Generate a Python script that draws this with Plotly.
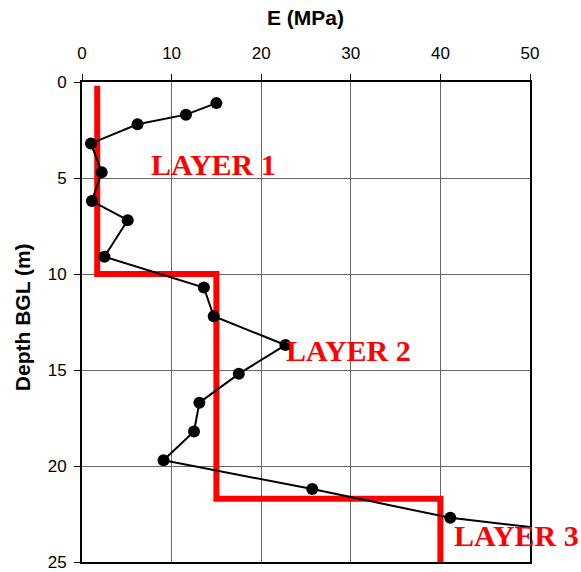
import plotly.graph_objects as go

# Measured stiffness profile (modulus vs depth below ground level)
modulus_mpa = [15.0, 11.6, 6.2, 1.0, 2.2, 1.1, 5.1, 2.5, 13.6, 14.7, 22.7, 17.5, 13.1, 12.5, 9.1, 25.7, 41.1, 69.0]
depth_m = [1.1, 1.7, 2.2, 3.2, 4.7, 6.2, 7.2, 9.1, 10.7, 12.2, 13.7, 15.2, 16.7, 18.2, 19.7, 21.2, 22.7, 24.2]

# Idealised layered design profile
layer_modulus = [1.7, 1.7, 15.0, 15.0, 40.0, 40.0]
layer_depth = [0.2, 10.0, 10.0, 21.7, 21.7, 25.0]

# Layer labels and their positions (E, depth)
layer_names = ["LAYER 1", "LAYER 2", "LAYER 3"]
label_e = [14.7, 29.7, 48.5]
label_depth = [4.3, 13.96, 23.6]

fig = go.Figure()

fig.add_trace(go.Scatter(
    x=layer_modulus, y=layer_depth, mode="lines",
    line=dict(color="#ff0000", width=6),
    showlegend=False, hoverinfo="skip",
))

fig.add_trace(go.Scatter(
    x=modulus_mpa, y=depth_m, mode="lines+markers",
    line=dict(color="black", width=2),
    marker=dict(color="black", size=12),
    showlegend=False,
))

for name, xe, yd in zip(layer_names, label_e, label_depth):
    fig.add_annotation(
        x=xe, y=yd, xref="x", yref="y", text=f"<b>{name}</b>",
        showarrow=False,
        font=dict(family="Liberation Serif, Times New Roman, serif", size=30, color="#ff0000"),
        xanchor="center", yanchor="middle",
    )

sans = "Liberation Sans, Arial, sans-serif"
axis_font = dict(family=sans, size=17, color="black")
title_font = dict(family=sans, size=21, color="black")

# Axis titles placed as paper-referenced annotations
fig.add_annotation(
    x=0.498, y=1.135, xref="paper", yref="paper", text="<b>E (MPa)</b>",
    showarrow=False, font=title_font, xanchor="center", yanchor="middle",
)
fig.add_annotation(
    x=-0.134, y=0.51, xref="paper", yref="paper", text="<b>Depth BGL (m)</b>",
    showarrow=False, font=title_font, textangle=-90,
    xanchor="center", yanchor="middle",
)

fig.update_xaxes(
    side="top", range=[0, 50], dtick=10, tick0=0,
    ticks="outside", ticklen=6, tickwidth=1, tickcolor="black",
    ticklabelstandoff=8,
    showline=True, linecolor="black", linewidth=2, mirror=True,
    showgrid=True, gridcolor="#666666", gridwidth=1,
    zeroline=False, tickfont=axis_font, automargin=False,
)
fig.update_yaxes(
    range=[25, 0], dtick=5, tick0=0,
    ticks="outside", ticklen=6, tickwidth=1, tickcolor="black",
    ticklabelstandoff=4,
    showline=True, linecolor="black", linewidth=2, mirror=True,
    showgrid=True, gridcolor="#666666", gridwidth=1,
    zeroline=False, tickfont=axis_font, automargin=False,
)

fig.update_layout(
    width=581, height=572,
    margin=dict(l=82, r=51, t=82, b=10),
    paper_bgcolor="white", plot_bgcolor="white",
    showlegend=False,
)

fig.write_html("out.html")
